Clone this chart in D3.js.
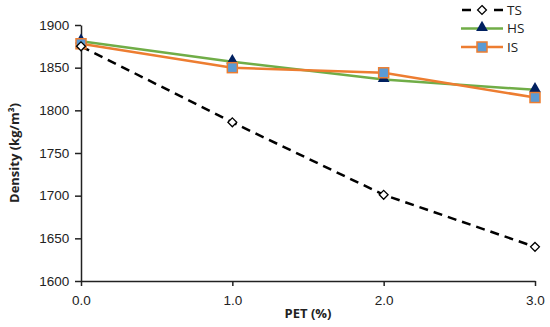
<!DOCTYPE html>
<html>
<head>
<meta charset="utf-8">
<script src="https://cdn.jsdelivr.net/npm/d3@7"></script>
<style>
  body { margin: 0; background: #fff; }
  svg { font-family: "Open Sans", Lato, sans-serif; }
</style>
</head>
<body>
<div id="chart"></div>
<script>
// data
const pet = [0, 1, 2, 3];
const tsValues = [1875, 1786, 1701, 1640];
const hsValues = [1881, 1857, 1836, 1824];
const isValues = [1878, 1850, 1844, 1815];
const yTicks = [1600, 1650, 1700, 1750, 1800, 1850, 1900];
const xTicks = [0, 1, 2, 3];

const width = 550, height = 327;
const margin = {top: 25, right: 15, bottom: 46, left: 81};
const cWidth = width - margin.left - margin.right;
const cHeight = height - margin.top - margin.bottom;

const svg = d3.select('#chart').append('svg')
    .attr('width', width)
    .attr('height', height);
const g = svg.append('g').attr('transform', `translate(${margin.left},${margin.top})`);

const x = d3.scaleLinear().domain([0, 3]).range([0, cWidth]);
const y = d3.scaleLinear().domain([1600, 1900]).range([cHeight, 0]);

// axes
const xAxis = g.append('g')
    .attr('transform', `translate(0,${cHeight})`)
    .call(d3.axisBottom(x).tickValues(xTicks).tickFormat(d3.format('.1f')).tickSize(5).tickSizeOuter(0));
const yAxis = g.append('g')
    .call(d3.axisLeft(y).tickValues(yTicks).tickFormat(d3.format('d')).tickSize(6).tickSizeOuter(0));

[xAxis, yAxis].forEach(a => {
  a.select('.domain').attr('stroke', '#222').attr('stroke-width', 1.5);
  a.selectAll('.tick line').attr('stroke', '#222').attr('stroke-width', 1.5);
  a.selectAll('.tick text').attr('fill', '#222').attr('font-size', 13.5);
});
xAxis.selectAll('.tick text').attr('dy', '1.2em');
yAxis.selectAll('.tick text').attr('dx', '-0.2em');

// axis titles
svg.append('text')
    .attr('x', margin.left + cWidth / 2)
    .attr('y', 318)
    .attr('text-anchor', 'middle')
    .attr('font-size', 13)
    .attr('font-weight', 'bold')
    .attr('fill', '#222')
    .text('PET (%)');

svg.append('text')
    .attr('transform', `translate(19,${margin.top + cHeight / 2}) rotate(-90)`)
    .attr('text-anchor', 'middle')
    .attr('font-size', 13)
    .attr('font-weight', 'bold')
    .attr('fill', '#222')
    .text('Density (kg/m³)');

const line = d3.line().x((d, i) => x(pet[i])).y(d => y(d));

// HS
g.append('path').datum(hsValues)
    .attr('d', line).attr('fill', 'none')
    .attr('stroke', '#70ad47').attr('stroke-width', 2.5);
// IS
g.append('path').datum(isValues)
    .attr('d', line).attr('fill', 'none')
    .attr('stroke', '#ed7d31').attr('stroke-width', 2.5);
// TS
g.append('path').datum(tsValues)
    .attr('d', line).attr('fill', 'none')
    .attr('stroke', '#000').attr('stroke-width', 2.5)
    .attr('stroke-dasharray', '9,6');

const triangle = d3.symbol().type(d3.symbolTriangle).size(60);
const diamond = d3.symbol().type(d3.symbolDiamond2).size(50);

g.selectAll('.hs').data(hsValues).enter().append('path')
    .attr('transform', (d, i) => `translate(${x(pet[i])},${y(d) - 1})`)
    .attr('d', triangle).attr('fill', '#002060');

g.selectAll('.is').data(isValues).enter().append('rect')
    .attr('x', (d, i) => x(pet[i]) - 5)
    .attr('y', d => y(d) - 5)
    .attr('width', 10).attr('height', 10)
    .attr('fill', '#5b9bd5').attr('stroke', '#ed7d31').attr('stroke-width', 1.5);

g.selectAll('.ts').data(tsValues).enter().append('path')
    .attr('transform', (d, i) => `translate(${x(pet[i])},${y(d)})`)
    .attr('d', diamond).attr('fill', '#fff').attr('stroke', '#000').attr('stroke-width', 1.3);

// legend
const keys = ['TS', 'HS', 'IS'];
const legend = svg.append('g').attr('transform', 'translate(461,10)');
const row = legend.selectAll('g').data(keys).enter().append('g')
    .attr('transform', (d, i) => `translate(0,${i * 18.5})`);

row.append('line')
    .attr('x1', 0).attr('x2', 42).attr('y1', 0).attr('y2', 0)
    .attr('stroke', d => d === 'TS' ? '#000' : d === 'HS' ? '#70ad47' : '#ed7d31')
    .attr('stroke-width', 2.5)
    .attr('stroke-dasharray', d => d === 'TS' ? '9,7' : null)
    .attr('stroke-dashoffset', d => d === 'TS' ? -1 : null);

row.each(function(d) {
  const r = d3.select(this);
  if (d === 'TS') {
    r.append('rect').attr('x', 14).attr('y', -5).attr('width', 14).attr('height', 10).attr('fill', '#fff');
    r.append('path').attr('transform', 'translate(21,0)').attr('d', diamond)
      .attr('fill', '#fff').attr('stroke', '#000').attr('stroke-width', 1.3);
  } else if (d === 'HS') {
    r.append('path').attr('transform', 'translate(21,-1)').attr('d', triangle).attr('fill', '#002060');
  } else {
    r.append('rect').attr('x', 16).attr('y', -5).attr('width', 10).attr('height', 10)
      .attr('fill', '#5b9bd5').attr('stroke', '#ed7d31').attr('stroke-width', 1.5);
  }
});

row.append('text')
    .attr('x', 46).attr('y', 0).attr('dy', '0.35em')
    .attr('font-size', 13.5).attr('fill', '#222')
    .text(d => d);
</script>
</body>
</html>
